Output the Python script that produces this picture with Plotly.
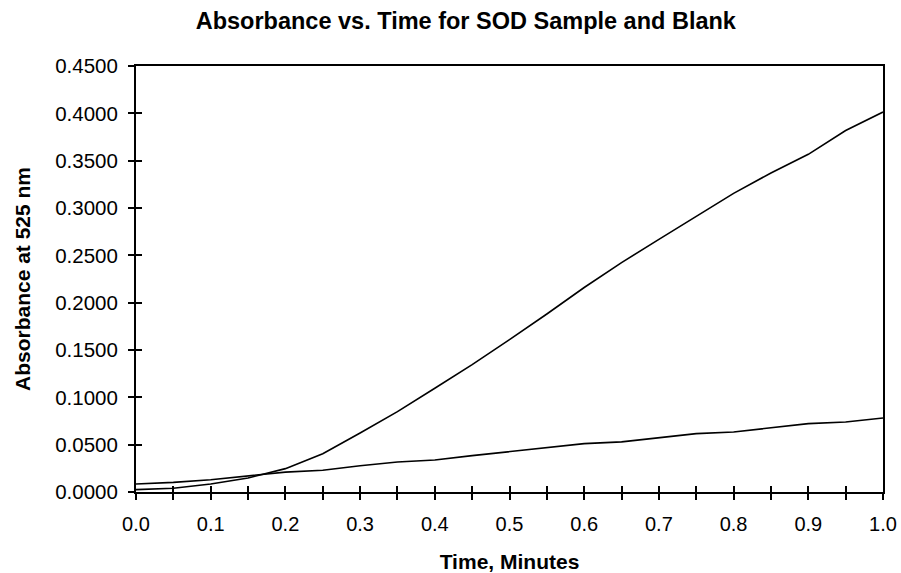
import plotly.graph_objects as go

time_min = [0.0, 0.05, 0.1, 0.15, 0.2, 0.25, 0.3, 0.35, 0.4, 0.45, 0.5,
            0.55, 0.6, 0.65, 0.7, 0.75, 0.8, 0.85, 0.9, 0.95, 1.0]
sample_abs = [0.0025, 0.0039, 0.0085, 0.0148, 0.0247, 0.0405, 0.0624, 0.0849,
              0.1096, 0.1346, 0.1610, 0.1880, 0.2160, 0.2423, 0.2669, 0.2916,
              0.3155, 0.3370, 0.3567, 0.3818, 0.4014]
blank_abs = [0.0085, 0.0102, 0.0130, 0.0170, 0.0210, 0.0230, 0.0278, 0.0317,
             0.0338, 0.0384, 0.0426, 0.0469, 0.0511, 0.0529, 0.0574, 0.0617,
             0.0634, 0.0680, 0.0722, 0.0740, 0.0782]

title_text = "Absorbance vs. Time for SOD Sample and Blank"
x_title = "Time, Minutes"
y_title = "Absorbance at 525 nm"

FONT = "Liberation Sans, Arial, sans-serif"

fig = go.Figure()
fig.add_trace(go.Scatter(x=time_min, y=sample_abs, mode="lines",
                         line=dict(color="black", width=1.6), name="Sample"))
fig.add_trace(go.Scatter(x=time_min, y=blank_abs, mode="lines",
                         line=dict(color="black", width=1.6), name="Blank"))
# invisible trace on secondary axes so that the inner tick halves render
fig.add_trace(go.Scatter(x=[time_min[0]], y=[blank_abs[0]], xaxis="x2", yaxis="y2",
                         mode="markers", marker=dict(opacity=0), hoverinfo="skip",
                         showlegend=False))

common = dict(showgrid=False, zeroline=False, linecolor="black", linewidth=2,
              tickcolor="black", tickwidth=2, ticklen=6, automargin=False)

fig.update_layout(
    width=901, height=573,
    paper_bgcolor="white", plot_bgcolor="white",
    margin=dict(l=136, r=17.5, t=66, b=81.3, autoexpand=False),
    showlegend=False,
    font=dict(family=FONT, color="black"),
    title=dict(text="<b>" + title_text + "</b>", x=0.517, xanchor="center",
               xref="container", yref="container",
               y=0.963, yanchor="middle", font=dict(size=23.5, family=FONT)),
    xaxis=dict(range=[0, 1], tick0=0, dtick=0.1, tickformat=".1f",
               ticks="outside", showline=True, mirror=True,
               minor=dict(dtick=0.05, ticks="outside", ticklen=6, tickwidth=2,
                          tickcolor="black"),
               tickfont=dict(size=20), ticklabelstandoff=7,
               ticklabeloverflow="allow",
               title=dict(text="<b>" + x_title + "</b>", font=dict(size=21),
                          standoff=20),
               **common),
    yaxis=dict(range=[0, 0.45], tick0=0, dtick=0.05, tickformat=".4f",
               ticks="outside", showline=True, mirror=True,
               tickfont=dict(size=20.5), ticklabelstandoff=6,
               title=dict(text="<b>" + y_title + "</b>", font=dict(size=21),
                          standoff=19),
               **common),
    xaxis2=dict(range=[0, 1], overlaying="x", anchor="y2", side="bottom",
                tick0=0, dtick=0.1, ticks="inside", showticklabels=False,
                minor=dict(dtick=0.05, ticks="inside", ticklen=6, tickwidth=2,
                           tickcolor="black"),
                showline=False, **common),
    yaxis2=dict(range=[0, 0.45], overlaying="y", anchor="x2", side="left",
                tick0=0, dtick=0.05, ticks="inside", showticklabels=False,
                showline=False, **common),
)

fig.write_html("out.html",
               config={"displayModeBar": False},
               post_script="document.body.style.margin='0';"
                           "document.body.style.overflow='hidden';")
